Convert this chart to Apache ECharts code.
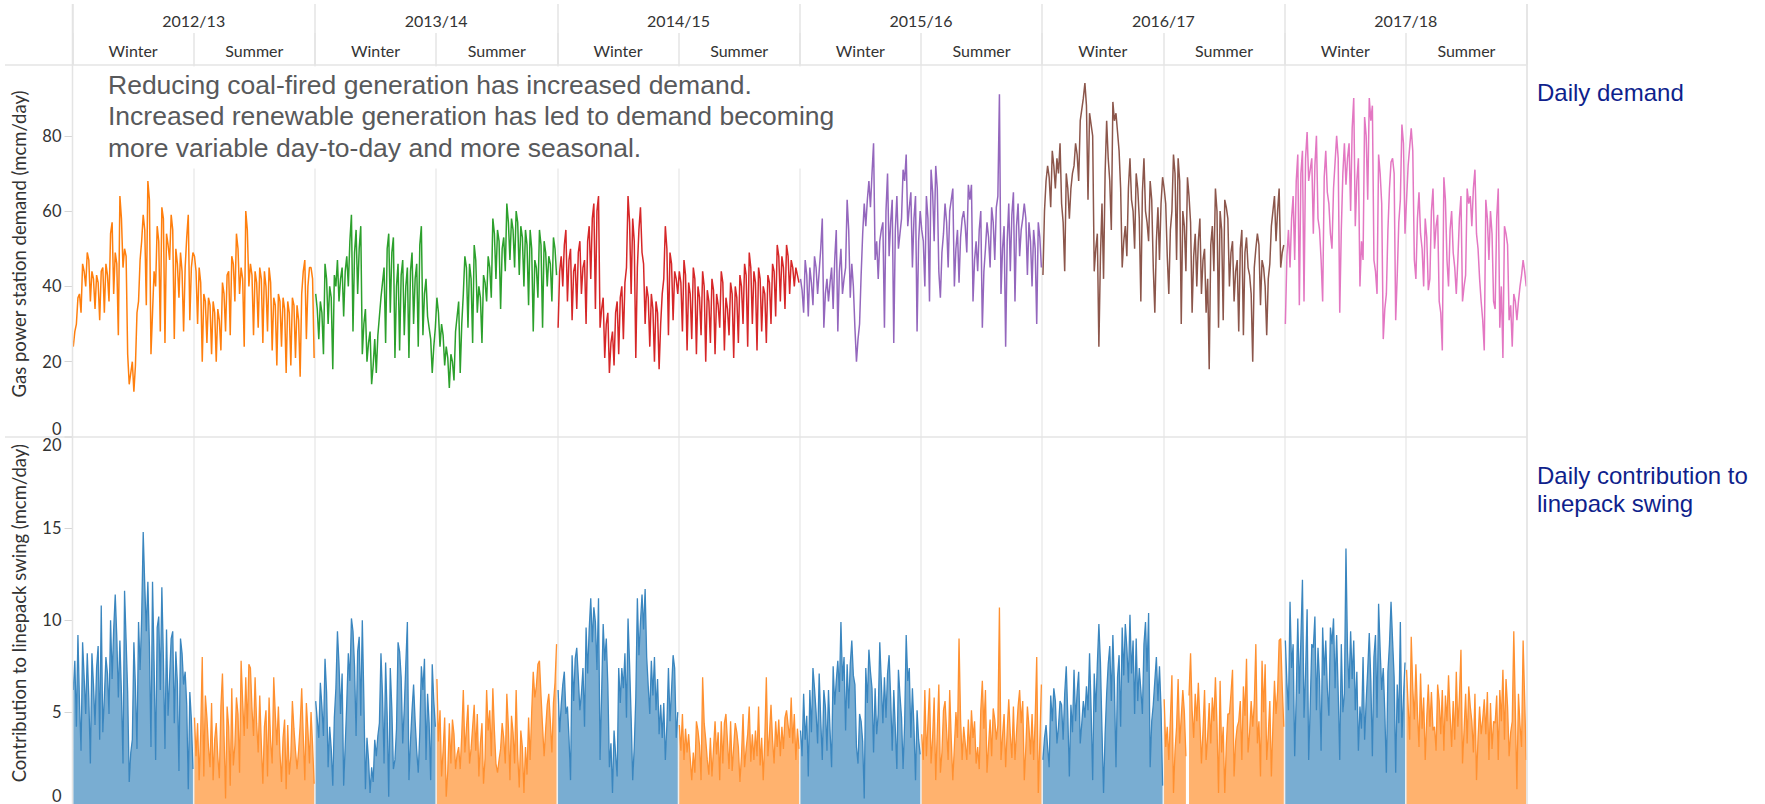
<!DOCTYPE html>
<html>
<head>
<meta charset="utf-8">
<script src="https://cdn.jsdelivr.net/npm/echarts@6/dist/echarts.min.js"></script>
<style>
html,body{margin:0;padding:0;background:#ffffff;}
#chart{width:1765px;height:804px;}
</style>
</head>
<body>
<div id="chart"></div>
<script>
// ---------------- DATA ----------------
const years = ['2012/13', '2013/14', '2014/15', '2015/16', '2016/17', '2017/18'];
const seasons = ['Winter', 'Summer'];
const demandTicks = [0, 20, 40, 60, 80];
const swingTicks = [0, 5, 10, 15, 20];

// Gas power station demand (mcm/day), sampled three times a week
const demandWinter1213 = [24,28,30,37,38,33,46,44,40,49,47,36,44,42,34,43,41,31,44,45,33,46,43,36,54,57,38,49,46,27,64,58,45,50,48,22,14,17,20,12,19,33,36,47,52,59,55,35,68,63,22,33,44,40,56,52,28,61,58,25,54,51,47,59,55,26,50,46,37,49,44,28,45,53,59,31,45,49];
const demandSummer1213 = [48,44,30,45,41,20,38,36,25,37,35,22,36,33,20,34,31,23,41,38,28,43,44,27,48,46,36,54,50,38,45,42,24,60,55,40,46,43,27,44,41,29,45,42,25,44,40,28,45,41,23,37,35,19,38,36,24,37,34,17,36,33,19,37,35,21,35,31,16,38,44,47,26,40,45,45,42,21];
const demandWinter1314 = [38,34,26,36,33,22,46,42,30,40,37,18,43,40,47,36,42,45,32,44,48,40,52,59,28,49,55,38,50,56,22,30,34,20,25,28,14,19,26,17,27,32,37,41,45,25,50,54,33,49,53,21,40,46,23,43,47,27,40,45,21,44,49,30,42,46,24,51,56,27,38,42,32,29,26,17,24,29];
const demandSummer1314 = [37,33,24,30,27,19,24,21,13,22,20,15,28,32,36,17,30,38,48,45,29,46,42,25,51,47,33,40,37,25,43,41,36,48,45,37,58,54,42,55,52,34,50,53,44,62,57,47,58,55,45,60,57,43,56,53,40,55,51,35,55,50,28,47,45,37,55,51,29,52,49,40,48,46,36,53,50,43];
const demandWinter1415 = [29,44,48,40,51,55,36,47,50,31,44,46,34,49,52,38,45,47,30,52,56,42,58,62,34,60,64,29,34,37,21,30,33,17,25,28,19,33,36,22,37,40,26,41,45,64,57,38,58,52,21,45,55,61,49,46,30,40,37,24,38,34,20,36,33,18,30,38,42,56,50,27,49,46,31,44,42,38];
const demandSummer1415 = [44,41,28,47,43,23,41,38,26,45,42,22,40,37,27,44,40,20,39,36,25,42,39,22,38,35,29,44,41,23,37,34,27,41,38,21,40,37,25,43,40,30,46,43,24,49,45,30,44,41,23,45,42,28,40,38,25,43,41,30,46,44,32,51,48,36,48,45,34,51,48,38,47,45,40,45,43,41];
const demandWinter1516 = [42,39,33,47,43,32,45,41,35,48,45,38,44,50,58,29,38,42,36,41,45,34,47,55,28,44,50,38,42,45,63,55,37,46,40,29,20,26,30,43,54,62,56,63,68,61,70,78,47,52,42,52,55,57,29,60,70,48,57,63,25,55,64,50,54,58,71,68,75,56,61,65,45,58,64,28,52,60];
const demandSummer1516 = [55,52,40,64,58,36,71,65,52,72,66,44,37,49,54,62,57,45,60,63,66,40,50,55,41,53,58,60,56,49,67,63,67,36,47,52,44,55,60,29,44,50,57,53,45,61,57,47,61,64,91,38,50,56,24,52,62,44,59,65,36,56,62,48,55,58,62,58,43,57,52,40,55,50,30,57,53,45];
const demandWinter1617 = [43,60,68,72,69,61,76,72,66,74,70,78,62,57,44,70,66,58,66,70,72,78,75,68,84,87,90,94,88,63,86,83,80,44,50,54,24,48,62,42,70,84,74,68,55,89,84,86,81,76,66,45,52,56,48,66,74,63,60,50,70,66,58,36,65,74,60,57,52,68,63,45,33,52,61,47,62,69];
const demandSummer1617 = [66,62,48,38,55,60,75,70,47,74,68,30,60,56,44,69,64,57,33,48,54,40,52,58,38,47,50,33,42,18,51,56,44,66,60,29,60,55,31,63,61,58,40,49,52,36,44,47,28,50,55,27,49,53,45,43,38,20,45,50,54,51,35,47,45,40,27,42,46,56,60,64,52,60,66,45,49,51];
const demandWinter1718 = [30,48,55,45,58,64,47,68,75,35,70,76,36,74,81,68,71,74,54,72,80,58,55,47,36,69,76,65,62,54,50,66,73,80,74,33,55,70,78,67,74,78,60,82,90,56,68,74,40,52,47,85,80,63,90,84,88,47,44,38,75,70,62,26,34,38,55,66,73,74,70,31,43,57,63,83,78,54];
const demandSummer1718 = [63,72,77,82,76,47,42,58,65,54,50,40,58,53,39,42,60,66,50,56,59,36,33,23,69,63,47,40,55,60,49,45,38,47,58,64,36,40,43,66,62,64,56,66,71,54,50,42,36,31,23,63,58,47,60,54,36,34,58,66,29,40,21,56,54,51,31,35,24,38,36,31,36,40,43,47,44,40];

// Contribution to linepack swing (mcm/day), sampled three times a week (null = missing day)
const swingWinter1213 = [6.2,7.8,4.2,9.2,5.5,2.9,8.8,6.9,4.9,8.2,5.8,2.2,8.2,6.5,4.3,7.4,8.6,3.5,10.8,3.9,5.8,8.0,7.1,4.9,10.0,6.8,9.5,11.4,9.1,5.8,8.9,6.0,2.2,11.6,8.9,6.1,1.2,2.8,3.5,8.8,6.4,3.0,9.9,7.3,10.1,14.8,11.9,9.4,12.1,8.6,3.1,12.1,7.7,2.4,9.6,10.2,6.2,11.8,7.9,3.0,9.5,4.8,6.9,9.0,9.4,4.4,8.3,6.6,1.8,9.0,8.2,6.5,7.2,5.4,0.8,6.1,4.6,1.9];
const swingSummer1213 = [4.7,2.6,4.4,1.3,3.9,8.0,1.5,5.9,4.7,3.1,2.0,5.5,1.3,3.5,4.4,2.6,1.4,5.3,7.1,3.8,0.3,5.3,4.2,1.0,6.3,2.1,3.2,5.8,4.9,1.7,7.8,5.6,3.7,6.9,4.1,7.6,7.4,5.2,3.7,6.9,4.4,2.8,5.9,3.3,1.1,4.2,5.1,1.5,5.8,3.4,2.2,6.9,4.9,3.2,5.3,2.8,1.2,3.6,4.6,0.8,4.3,1.6,2.6,5.6,4.1,2.9,1.9,2.9,4.3,6.3,3.7,1.3,5.5,4.0,2.2,5.0,3.2,1.1];
const swingWinter1314 = [5.6,4.6,3.6,6.6,5.3,3.7,7.9,6.1,2.0,4.2,3.0,1.0,4.7,6.3,9.4,7.6,4.9,7.1,1.0,3.2,5.5,8.2,6.7,10.1,9.4,7.5,3.7,8.3,9.1,4.8,10.0,5.7,0.8,3.6,2.4,0.6,2.0,1.2,3.5,2.6,3.7,4.4,8.2,5.9,2.2,7.7,4.8,0.4,7.4,5.2,1.9,2.4,4.1,8.8,8.3,6.9,3.3,5.2,7.6,9.9,1.3,3.4,5.1,6.5,4.5,2.9,1.7,3.9,7.5,6.2,7.9,2.4,6.0,4.4,1.3,7.6,5.6,4.2];
const swingSummer1314 = [6.8,3.4,5.1,1.5,2.9,4.7,0.4,1.8,4.4,2.2,4.6,3.8,1.9,2.7,3.1,1.9,3.8,6.2,2.8,4.1,5.4,2.2,3.0,4.2,5.4,2.9,4.9,1.5,3.3,4.4,1.1,2.5,6.2,4.0,5.1,2.6,6.3,4.0,2.2,1.7,2.4,3.0,4.4,3.6,2.2,6.0,4.2,1.3,4.8,3.9,2.2,6.2,2.7,0.9,4.0,3.1,0.6,3.1,1.6,4.7,2.4,5.0,7.2,5.8,6.4,7.6,7.8,5.9,4.2,2.6,4.1,5.4,6.0,4.5,2.8,5.5,6.6,8.7];
const swingWinter1415 = [6.2,3.9,5.4,6.5,7.2,4.9,5.3,3.6,1.3,8.1,5.6,7.9,8.5,6.9,5.1,6.0,7.4,4.2,9.6,7.1,9.5,11.2,8.8,10.7,9.9,7.3,11.2,2.4,6.0,9.8,7.8,9.0,6.5,2.0,3.3,0.6,4.0,2.7,1.5,7.4,5.5,7.4,6.3,8.2,4.7,10.1,7.6,4.7,1.3,3.1,5.8,11.2,8.1,9.9,11.4,9.5,11.7,8.0,6.4,4.9,7.8,5.9,8.0,5.1,6.8,3.8,5.4,3.6,5.5,2.4,4.3,7.4,4.5,6.2,8.1,7.4,3.6,5.0];
const swingSummer1415 = [4.3,2.9,4.9,2.4,4.1,2.8,3.8,2.5,1.3,2.8,1.7,4.5,4.0,3.2,1.3,6.9,4.4,3.5,2.4,1.6,3.6,1.5,3.0,4.5,2.7,3.9,1.3,4.5,2.2,4.4,4.9,3.4,1.9,4.5,1.8,3.1,4.4,3.9,3.1,1.2,2.6,4.9,2.0,3.0,3.8,5.3,2.3,3.8,2.4,4.0,2.6,5.3,2.1,3.6,1.3,3.5,6.9,2.6,3.8,5.4,3.5,2.2,4.5,3.1,4.6,2.6,4.2,3.0,4.7,5.1,4.3,3.6,5.8,3.3,4.9,2.4,4.1,3.0];
const swingWinter1516 = [4.0,2.6,6.0,3.5,4.8,1.5,6.2,3.9,7.4,6.3,5.0,3.3,7.1,4.6,2.4,6.2,5.3,2.9,6.2,4.0,2.0,7.5,5.4,6.7,7.8,6.1,9.9,6.7,8.0,4.0,7.6,5.2,7.6,8.9,7.0,6.5,3.1,2.2,4.9,4.5,3.4,0.3,7.4,5.5,8.4,7.2,6.3,2.8,6.3,3.8,4.9,8.8,6.6,4.4,6.9,4.7,7.1,8.1,5.8,2.9,6.2,4.1,1.9,7.3,5.9,4.7,1.9,4.4,9.2,6.7,7.4,3.6,6.3,4.2,1.3,5.1,3.5,2.7];
const swingSummer1516 = [3.8,2.4,6.2,2.6,4.4,6.3,2.2,3.6,5.8,1.3,3.9,6.5,1.7,2.8,5.1,5.6,4.0,2.4,6.2,3.5,1.3,3.1,5.0,3.6,9.0,4.6,2.4,4.2,3.3,2.4,4.6,2.7,5.1,3.6,4.5,2.2,3.1,1.9,5.1,6.7,4.1,6.2,1.7,3.2,4.6,2.6,5.2,4.6,3.5,4.3,10.7,2.4,3.7,4.9,2.0,4.0,5.7,3.8,2.5,5.3,2.4,3.9,5.3,6.2,4.4,5.6,1.3,3.1,5.3,4.2,2.7,4.9,2.4,4.6,8.0,0.6,3.4,6.5];
const swingWinter1617 = [2.4,3.6,4.3,3.1,2.0,5.9,4.5,6.3,5.6,3.3,4.2,5.6,5.4,3.5,6.0,7.5,4.8,1.5,5.4,3.9,7.3,4.5,6.1,7.2,3.3,4.4,5.6,4.7,6.4,5.1,8.2,5.1,1.3,7.1,5.0,7.6,9.8,7.7,4.0,0.6,3.8,6.0,7.6,8.6,5.6,9.2,6.5,2.0,6.9,8.1,4.2,9.6,7.0,9.8,8.5,6.6,10.3,7.1,8.9,4.9,9.0,5.6,7.4,6.2,4.9,8.7,9.9,7.2,10.4,2.0,4.5,5.4,6.7,8.0,5.6,7.5,5.2,1.0];
const swingSummer1617 = [5.7,3.1,4.2,2.4,4.6,7.0,0.6,2.9,4.2,6.8,3.3,4.7,6.2,5.0,2.6,null,5.9,8.2,5.1,3.6,6.0,4.5,6.6,4.5,2.2,4.0,6.2,2.4,3.7,5.5,3.3,5.8,4.5,6.9,4.3,0.6,6.7,2.8,4.2,0.6,3.2,4.9,4.9,6.0,7.3,1.5,3.4,4.2,4.5,5.6,2.4,6.4,4.8,7.9,2.8,3.9,5.6,4.2,5.5,8.7,3.3,4.5,1.5,7.8,5.0,7.6,2.4,3.8,5.6,1.5,4.3,6.7,4.9,6.1,8.9,9.0,6.4,4.2];
const swingWinter1718 = [8.9,6.6,5.1,11.0,7.4,8.7,2.6,5.9,10.1,6.0,9.0,12.2,4.7,7.1,10.6,2.4,5.3,8.7,8.5,10.2,5.1,8.5,6.7,2.9,9.6,7.0,8.9,6.3,4.8,9.6,8.7,10.1,6.3,9.2,6.1,2.4,8.7,5.0,6.0,13.9,8.3,6.3,9.4,6.8,8.9,5.1,7.2,2.9,5.3,4.1,8.0,3.5,5.6,7.3,9.3,6.7,2.6,8.0,9.2,4.7,10.9,8.4,6.2,7.4,5.0,1.7,7.2,8.7,11.0,8.9,6.9,1.7,6.5,4.4,9.9,3.6,5.8,7.7];
const swingSummer1718 = [7.3,5.4,3.5,9.1,6.3,4.6,7.6,5.0,3.1,7.1,4.1,5.8,2.4,4.7,6.5,4.2,6.1,4.0,4.2,2.9,6.5,5.6,3.8,6.2,2.9,5.9,4.5,7.0,4.9,3.1,5.6,3.5,7.2,4.2,5.8,8.4,2.2,4.0,6.0,3.3,6.4,5.3,4.5,2.8,6.0,1.3,3.6,5.3,3.8,4.6,5.7,3.8,6.1,2.4,5.5,3.0,4.5,4.4,5.9,2.4,6.2,4.5,7.3,3.5,6.8,5.3,2.6,3.9,4.5,9.4,5.2,0.8,6.0,4.3,3.1,8.9,5.7,2.4];

const annotationLines = [
  'Reducing coal-fired generation has increased demand.',
  'Increased renewable generation has led to demand becoming',
  'more variable day-to-day and more seasonal.'
];
const demandPanelLabel = 'Daily demand';
const swingPanelLabel = ['Daily contribution to', 'linepack swing'];
const demandAxisTitle = 'Gas power station demand (mcm/day)';
const swingAxisTitle = 'Contribution to linepack swing (mcm/day)';

// ---------------- STYLE / LAYOUT ----------------
const W = 1765, H = 804;
const PLOT_LEFT = 72.5, PLOT_RIGHT = 1527;
const HEADER_TOP = 4, SEASON_ROW_TOP = 33, HEADER_BOTTOM = 65;
const PANEL_SPLIT = 437, SWING_ZERO_Y = 808;
const DEMAND_MAX = 98.8, SWING_MAX = 20;
const yearColors = ['#ff7f0e', '#2ca02c', '#d62728', '#9467bd', '#8c564b', '#e377c2'];
const seasonFill = ['#1f77b4', '#ff7f0e'];
const seasonLine = ['#3a86bf', '#ff9030'];
const GRID_LINE = '#ebebeb';
const AXIS_FONT = 'Lato, "Noto Sans", sans-serif';
const TEXT_FONT = '"Liberation Sans", Arial, sans-serif';

// ---------------- BUILD ----------------
const demandBySeason = [demandWinter1213, demandSummer1213, demandWinter1314, demandSummer1314,
  demandWinter1415, demandSummer1415, demandWinter1516, demandSummer1516,
  demandWinter1617, demandSummer1617, demandWinter1718, demandSummer1718];
const swingBySeason = [swingWinter1213, swingSummer1213, swingWinter1314, swingSummer1314,
  swingWinter1415, swingSummer1415, swingWinter1516, swingSummer1516,
  swingWinter1617, swingSummer1617, swingWinter1718, swingSummer1718];

const nD = demandBySeason[0].length;
const nS = swingBySeason[0].length;
const totalD = nD * demandBySeason.length;
const totalS = nS * swingBySeason.length;

function buildCategories(n) {
  const out = [];
  years.forEach(y => seasons.forEach(s => {
    for (let i = 0; i < n; i++) out.push(y + ' ' + s + ' ' + (i + 1));
  }));
  return out;
}
const demandCategories = buildCategories(nD);
const swingCategories = buildCategories(nS);
const seasonLabels = [];
years.forEach(() => seasons.forEach(s => seasonLabels.push(s)));

const demandSeries = years.map((y, yi) => {
  const data = new Array(totalD).fill(null);
  for (let s = 0; s < seasons.length; s++) {
    const k = yi * seasons.length + s;
    demandBySeason[k].forEach((v, i) => { data[k * nD + i] = v; });
  }
  return {
    name: y, type: 'line', xAxisIndex: 0, yAxisIndex: 0, data,
    symbol: 'none', showSymbol: false, connectNulls: false, silent: true,
    lineStyle: { width: 1.5, color: yearColors[yi] }, itemStyle: { color: yearColors[yi] }, z: 3
  };
});

// one area series per unbroken run of days in each season
const swingSeries = [];
swingBySeason.forEach((arr, k) => {
  const si = k % seasons.length;
  let run = null;
  const flush = () => { if (run) swingSeries.push(run); run = null; };
  arr.forEach((v, i) => {
    if (v === null) { flush(); return; }
    if (!run) {
      run = {
        name: seasons[si], type: 'line', xAxisIndex: 1, yAxisIndex: 1,
        data: new Array(totalS).fill(null),
        symbol: 'none', showSymbol: false, connectNulls: false, silent: true,
        lineStyle: { width: 1.3, color: seasonLine[si] },
        itemStyle: { color: seasonLine[si] },
        areaStyle: { color: seasonFill[si], opacity: 0.6, origin: 'start' }, z: 3
      };
    }
    run.data[k * nS + i] = v;
  });
  flush();
});

const seasonSplit = (n) => ({
  show: true,
  interval: (idx) => idx > 0 && idx % n === 0,
  lineStyle: { color: GRID_LINE, width: 1.5 }
});

const valueAxisCommon = {
  type: 'value', min: 0,
  axisLine: { show: false },
  axisTick: { show: true, length: 8, lineStyle: { color: '#d6d6d6', width: 1 } },
  splitLine: { show: false },
  nameLocation: 'middle', nameRotate: 90, nameGap: 44
};
const tickLabel = { fontFamily: AXIS_FONT, fontSize: 16.5, color: '#333333', margin: 11 };

const hLine = (x1, x2, y) => ({ type: 'line', silent: true, z: 50,
  shape: { x1, y1: y, x2, y2: y }, style: { stroke: '#e4e4e4', lineWidth: 1.5 } });
const vLine = (x, y1, y2) => ({ type: 'line', silent: true, z: 50,
  shape: { x1: x, y1, x2: x, y2 }, style: { stroke: '#e4e4e4', lineWidth: 1.5 } });

const option = {
  animation: false,
  backgroundColor: '#ffffff',
  textStyle: { fontFamily: AXIS_FONT },
  grid: [
    { left: PLOT_LEFT, width: PLOT_RIGHT - PLOT_LEFT, top: HEADER_BOTTOM, height: PANEL_SPLIT - HEADER_BOTTOM },
    { left: PLOT_LEFT, width: PLOT_RIGHT - PLOT_LEFT, top: PANEL_SPLIT - 0.5, height: SWING_ZERO_Y - PANEL_SPLIT + 0.5 },
    { left: PLOT_LEFT, width: PLOT_RIGHT - PLOT_LEFT, top: HEADER_TOP, height: HEADER_BOTTOM - HEADER_TOP },
    { left: PLOT_LEFT, width: PLOT_RIGHT - PLOT_LEFT, top: SEASON_ROW_TOP, height: HEADER_BOTTOM - SEASON_ROW_TOP }
  ],
  xAxis: [
    { gridIndex: 0, type: 'category', data: demandCategories, boundaryGap: true,
      axisLine: { show: false }, axisTick: { show: false }, axisLabel: { show: false }, splitLine: seasonSplit(nD) },
    { gridIndex: 1, type: 'category', data: swingCategories, boundaryGap: true,
      axisLine: { show: false }, axisTick: { show: false }, axisLabel: { show: false }, splitLine: seasonSplit(nS) },
    { gridIndex: 2, type: 'category', data: years, position: 'top', boundaryGap: true,
      axisLine: { show: false }, axisTick: { show: false },
      axisLabel: { inside: true, margin: 8, interval: 0, fontFamily: AXIS_FONT, fontSize: 16, color: '#333333' },
      splitLine: { show: true, interval: 0, lineStyle: { color: '#e4e4e4', width: 1.5 } } },
    { gridIndex: 3, type: 'category', data: seasonLabels, position: 'bottom', boundaryGap: true,
      axisLine: { show: false }, axisTick: { show: false },
      axisLabel: { inside: true, margin: 7, interval: 0, fontFamily: AXIS_FONT, fontSize: 16, color: '#333333' },
      splitLine: { show: true, interval: 0, lineStyle: { color: '#e4e4e4', width: 1.5 } } }
  ],
  yAxis: [
    Object.assign({}, valueAxisCommon, {
      gridIndex: 0, max: DEMAND_MAX, interval: demandTicks[1] - demandTicks[0], name: demandAxisTitle,
      nameTextStyle: { fontFamily: AXIS_FONT, fontSize: 18.5, color: '#333333', padding: [0, 0, 0, 14] },
      axisLabel: Object.assign({}, tickLabel, { showMaxLabel: false, verticalAlignMinLabel: 'bottom',
        formatter: v => (demandTicks.indexOf(v) >= 0 ? String(v) : '') })
    }),
    Object.assign({}, valueAxisCommon, {
      gridIndex: 1, max: SWING_MAX, interval: swingTicks[1] - swingTicks[0], name: swingAxisTitle,
      nameTextStyle: { fontFamily: AXIS_FONT, fontSize: 18.5, color: '#333333', padding: [0, 0, 0, 14] },
      axisLabel: Object.assign({}, tickLabel, { verticalAlignMaxLabel: 'top', verticalAlignMinLabel: 'bottom',
        formatter: v => (swingTicks.indexOf(v) >= 0 ? String(v) : '') })
    }),
    { gridIndex: 2, type: 'value', show: false },
    { gridIndex: 3, type: 'value', show: false }
  ],
  series: demandSeries.concat(swingSeries),
  graphic: [
    hLine(5, PLOT_RIGHT, HEADER_BOTTOM),
    hLine(5, PLOT_RIGHT, PANEL_SPLIT),
    vLine(PLOT_LEFT, HEADER_TOP, H),
    vLine(PLOT_RIGHT, HEADER_TOP, H),
    { type: 'rect', silent: true, z: 60,
      shape: { x: PLOT_LEFT + 1.5, y: HEADER_BOTTOM + 1.5, width: 840 - PLOT_LEFT, height: 167 - HEADER_BOTTOM },
      style: { fill: '#ffffff' } },
    { type: 'text', silent: true, z: 61, x: 108, y: 69,
      style: { text: annotationLines.join('\n'), font: '26.5px ' + TEXT_FONT, fill: '#58595b',
        lineHeight: 31.5, verticalAlign: 'top', align: 'left' } },
    { type: 'text', silent: true, z: 61, x: 1537, y: 78,
      style: { text: demandPanelLabel, font: '24px ' + TEXT_FONT, fill: '#0f1f8c',
        lineHeight: 28, verticalAlign: 'top', align: 'left' } },
    { type: 'text', silent: true, z: 61, x: 1537, y: 461,
      style: { text: swingPanelLabel.join('\n'), font: '24px ' + TEXT_FONT, fill: '#0f1f8c',
        lineHeight: 28, verticalAlign: 'top', align: 'left' } }
  ]
};

const chart = echarts.init(document.getElementById('chart'), null, { renderer: 'svg', width: W, height: H });
chart.setOption(option);
</script>
</body>
</html>
